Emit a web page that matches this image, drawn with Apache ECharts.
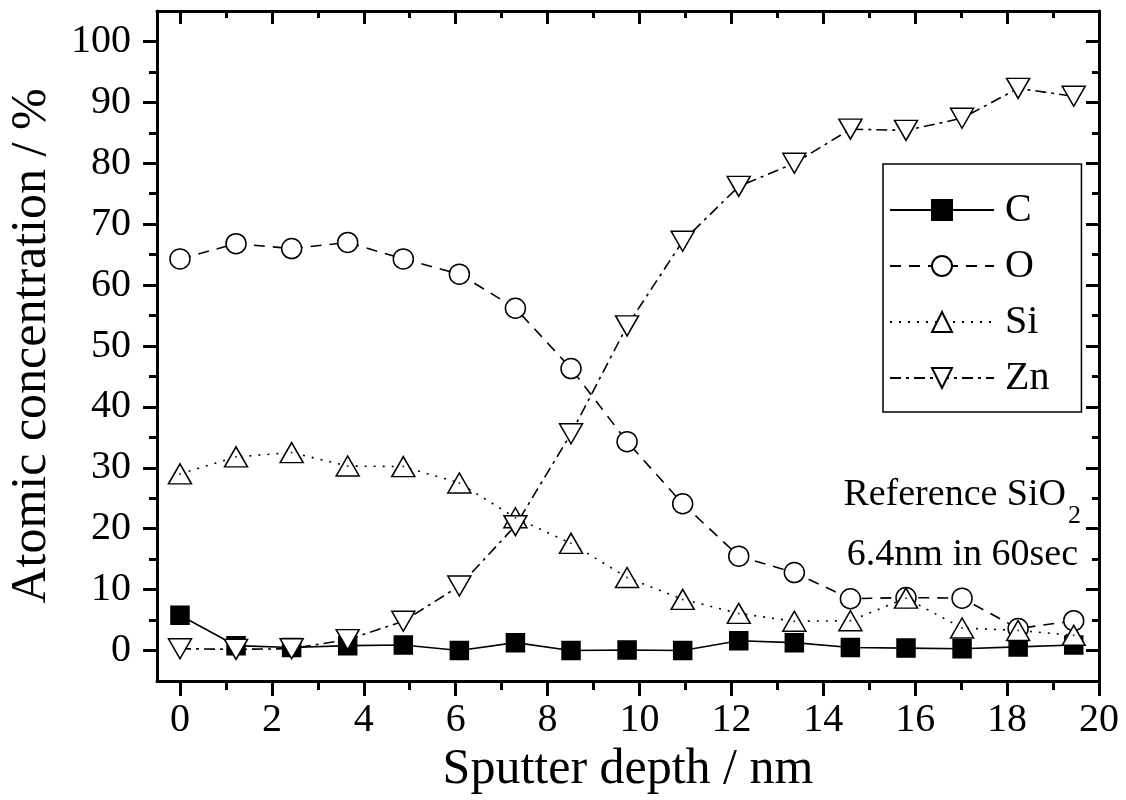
<!DOCTYPE html>
<html>
<head>
<meta charset="utf-8">
<script src="https://cdn.jsdelivr.net/npm/echarts@6/dist/echarts.min.js"></script>
<style>
  html, body { margin: 0; padding: 0; background: #fff; }
  #main { width: 1126px; height: 800px; }
</style>
</head>
<body>
<div id="main"></div>
<script>
// sputter depth (nm) of each measurement
var depth = [0, 1.22, 2.43, 3.65, 4.86, 6.08, 7.3, 8.51, 9.73, 10.94, 12.16, 13.37, 14.59, 15.8, 17.02, 18.24, 19.45];
// atomic concentration (%)
var cData = [5.8, 0.8, 0.5, 0.8, 0.9, 0.0, 1.3, 0.0, 0.1, 0.0, 1.6, 1.3, 0.5, 0.4, 0.3, 0.6, 0.9];
var oData = [64.3, 66.8, 66.0, 67.0, 64.3, 61.8, 56.2, 46.3, 34.3, 24.1, 15.5, 12.8, 8.5, 8.7, 8.6, 3.6, 4.9];
var siData = [29.0, 31.8, 32.5, 30.3, 30.2, 27.5, 21.8, 17.6, 12.0, 8.4, 6.1, 4.8, 4.9, 8.6, 3.7, 3.3, 2.5];
var znData = [0.3, 0.2, 0.3, 1.8, 4.8, 10.6, 20.5, 35.6, 53.3, 67.2, 76.2, 80.0, 85.6, 85.4, 87.4, 92.3, 91.0];

var xTicks = [0, 2, 4, 6, 8, 10, 12, 14, 16, 18, 20];
var xMinor = [1, 3, 5, 7, 9, 11, 13, 15, 17, 19];
var yTicks = [0, 10, 20, 30, 40, 50, 60, 70, 80, 90, 100];
var yMinor = [5, 15, 25, 35, 45, 55, 65, 75, 85, 95];

var font = "'Liberation Serif', 'Times New Roman', serif";

function pairs (ys) {
  return depth.map(function (x, i) { return [x, ys[i]] })
}

function xAxisDef (pos, ticks, len, inside, main) {
  return {
    type: 'value',
    position: pos,
    min: -0.5,
    max: 20,
    splitLine: { show: false },
    axisLine: { show: main, onZero: false, lineStyle: { color: '#000', width: 3 } },
    axisTick: { show: true, inside: inside, length: len, customValues: ticks, lineStyle: { color: '#000', width: 3 } },
    axisLabel: { show: false }
  }
}

function yAxisDef (pos, ticks, len, inside, main) {
  return {
    type: 'value',
    position: pos,
    min: -5,
    max: 105,
    splitLine: { show: false },
    axisLine: { show: main, onZero: false, lineStyle: { color: '#000', width: 3 } },
    axisTick: { show: true, inside: inside, length: len, customValues: ticks, lineStyle: { color: '#000', width: 3 } },
    axisLabel: { show: false }
  }
}

var xBottom = xAxisDef('bottom', xTicks, 15, false, true);
xBottom.axisLabel = { show: true, customValues: xTicks, margin: 19, color: '#000', fontFamily: font, fontSize: 40 };
xBottom.name = 'Sputter depth / nm';
xBottom.nameLocation = 'middle';
xBottom.nameGap = 57;
xBottom.nameTextStyle = { color: '#000', fontFamily: font, fontSize: 50 };

var yLeft = yAxisDef('left', yTicks, 14, false, true);
yLeft.axisLabel = { show: true, customValues: yTicks, margin: 26, color: '#000', fontFamily: font, fontSize: 40 };
yLeft.name = 'Atomic concentration / %';
yLeft.nameLocation = 'middle';
yLeft.nameGap = 100;
yLeft.nameTextStyle = { color: '#000', fontFamily: font, fontSize: 50 };

function lineSeries (name, ys, symbol, size, rotate, fill, dash) {
  return {
    name: name,
    type: 'line',
    data: pairs(ys),
    symbol: symbol,
    symbolSize: size,
    symbolRotate: rotate,
    showAllSymbol: true,
    z: 3,
    itemStyle: { color: fill, borderColor: '#000', borderWidth: 1.5 },
    lineStyle: { color: '#000', width: 1.6, type: dash },
    emphasis: { disabled: true }
  }
}

var myChart = echarts.init(document.getElementById('main'), null, { renderer: 'canvas' });
myChart.setOption({
  backgroundColor: '#fff',
  animation: false,
  textStyle: { fontFamily: font },
  grid: { left: 157, top: 11, right: 27, bottom: 119, containLabel: false, outerBoundsMode: 'none' },
  legend: {
    data: ['C', 'O', 'Si', 'Zn'],
    orient: 'vertical',
    left: 883,
    top: 164,
    padding: [26, 32, 14, 6],
    itemGap: 16,
    itemWidth: 104,
    itemHeight: 25,
    selectedMode: false,
    borderColor: '#000',
    borderWidth: 1.5,
    textStyle: { color: '#000', fontFamily: font, fontSize: 40, lineHeight: 40, padding: [0, 0, 0, 6] }
  },
  xAxis: [
    xBottom,
    xAxisDef('bottom', xMinor, 9, false, false),
    xAxisDef('top', xTicks, 13, true, true),
    xAxisDef('top', xMinor, 7, true, false)
  ],
  yAxis: [
    yLeft,
    yAxisDef('left', yMinor, 8, false, false),
    yAxisDef('right', yTicks, 13, true, true),
    yAxisDef('right', yMinor, 7, true, false)
  ],
  graphic: [
    { type: 'text', style: { x: 1066, y: 495, text: 'Reference SiO', textAlign: 'right', textVerticalAlign: 'middle', font: '38px ' + font, fill: '#000' } },
    { type: 'text', style: { x: 1068, y: 516, text: '2', textAlign: 'left', textVerticalAlign: 'middle', font: '26px ' + font, fill: '#000' } },
    { type: 'text', style: { x: 1078, y: 555, text: '6.4nm in 60sec', textAlign: 'right', textVerticalAlign: 'middle', font: '38px ' + font, fill: '#000' } }
  ],
  series: [
    lineSeries('C', cData, 'rect', 18, 0, '#000', 'solid'),
    lineSeries('O', oData, 'circle', 20, 0, '#fff', [11, 8]),
    lineSeries('Si', siData, 'triangle', [23, 20], 0, '#fff', [2, 7]),
    lineSeries('Zn', znData, 'triangle', [23, 20], 180, '#fff', [11, 5, 3, 5]),
    {
      name: 'Si dot',
      type: 'scatter',
      data: pairs(siData),
      symbol: 'circle',
      symbolSize: 2,
      z: 4,
      itemStyle: { color: '#000' },
      emphasis: { disabled: true }
    }
  ]
});
</script>
</body>
</html>
